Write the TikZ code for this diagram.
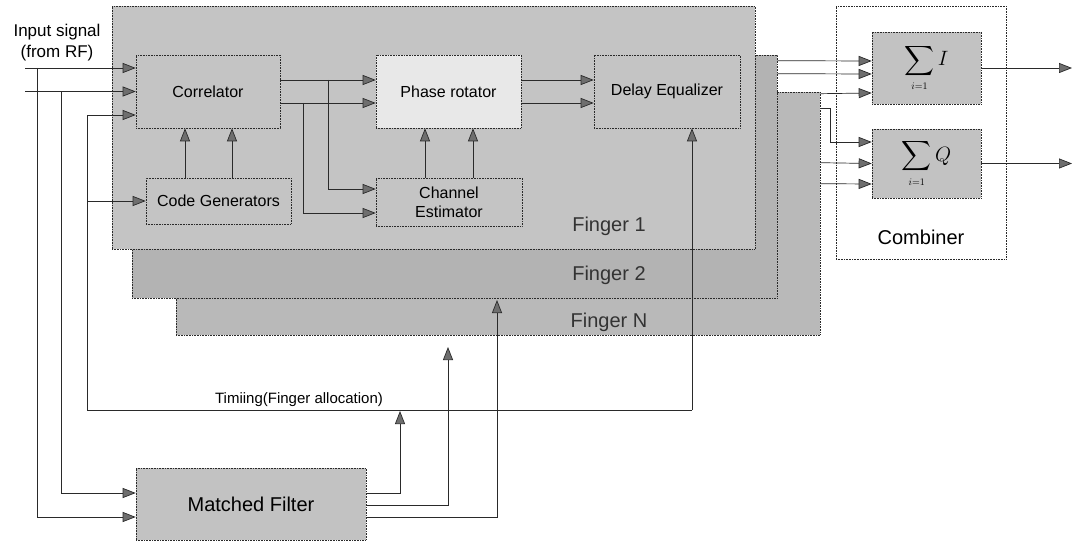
\documentclass[tikz,border=0pt]{standalone}
\usepackage{amsmath}
\usepackage{fontspec}
\setmainfont{Liberation Sans}
\usepackage{xcolor}
\usetikzlibrary{arrows.meta}
\definecolor{fingerA}{HTML}{C4C4C4}
\definecolor{fingerB}{HTML}{B3B3B3}
\definecolor{fingerN}{HTML}{B9B9B9}
\definecolor{rotFill}{HTML}{E8E8E8}
\definecolor{boxFill}{HTML}{C2C2C2}
\definecolor{lineClr}{HTML}{2A2A2A}
\definecolor{tipFill}{HTML}{6E6E6E}

\begin{document}
\begin{tikzpicture}[
    x=1pt, y=-1pt,
    plate/.style={
      rectangle, draw=lineClr, densely dotted, line width=0.6pt, inner sep=0pt
    },
    blk/.style={
      rectangle, draw=lineClr, densely dotted, line width=0.6pt,
      inner sep=1pt, align=center, font=\fontsize{16}{19}\selectfont
    },
    lbl/.style={inner sep=1pt, align=center, font=\fontsize{16}{19}\selectfont},
    biglbl/.style={inner sep=1pt, font=\fontsize{20}{24}\selectfont, text=black!80},
    sumblk/.style={blk, fill=boxFill, font=\fontsize{20}{22}\selectfont, minimum width=109pt},
    wire/.style={draw=lineClr, line width=0.7pt},
    arr/.style={-{Triangle[length=13pt, width=10pt, fill=tipFill]}, wire},
  ]
  \useasboundingbox (0,0) rectangle (1076,545);

  %% ── Finger plates (back to front) ──
  \node[plate, fill=fingerN, minimum width=644pt, minimum height=243pt] (fN) at (498,213.5) {};
  \node[plate, fill=fingerB, minimum width=645pt, minimum height=243pt] (f2) at (454.5,176.5) {};
  \node[plate, fill=fingerA, minimum width=643pt, minimum height=243pt] (f1) at (433.5,127.5) {};
  \node[biglbl] (f1Lbl) at (609,226) {Finger 1};
  \node[biglbl] (f2Lbl) at (609,275) {Finger 2};
  \node[biglbl] (fNLbl) at (609,322) {Finger N};

  %% ── Blocks of finger 1 ──
  \node[blk, minimum width=144pt, minimum height=73pt]               (corr)    at (208,91.5)  {Correlator};
  \node[blk, minimum width=145pt, minimum height=46pt]               (codegen) at (218.5,201) {Code Generators};
  \node[blk, fill=rotFill, minimum width=145pt, minimum height=73pt] (phrot)   at (448.5,91.5) {Phase rotator};
  \node[blk, minimum width=146pt, minimum height=48pt]               (chest)   at (449,202)   {Channel\\Estimator};
  \node[blk, minimum width=146pt, minimum height=73pt]               (deleq)   at (667,91.5)  {Delay Equalizer};

  %% ── Combiner ──
  \node[plate, fill=white, minimum width=170pt, minimum height=253pt] (comb) at (921,132.5) {};
  \node[biglbl, text=black] (combLbl) at (921,237) {Combiner};
  \node[sumblk, minimum height=72pt] (sumI) at (926.5,68)    {$\displaystyle\sum_{\scriptscriptstyle i=1} I$};
  \node[sumblk, minimum height=69pt] (sumQ) at (926.5,163.5) {$\displaystyle\sum_{\scriptscriptstyle i=1} Q$};

  %% ── Matched filter ──
  \node[blk, fill=boxFill, font=\fontsize{20}{24}\selectfont, minimum width=230pt, minimum height=72pt] (mf) at (251,504) {Matched Filter};

  %% ── Labels ──
  \node[lbl, font=\fontsize{17}{21}\selectfont] (input) at (57,42.5) {Input signal\\(from RF)};
  \node[lbl, font=\fontsize{15}{18}\selectfont] (timing) at (299,400) {Timiing(Finger allocation)};

  %% ── Free ends and branch points ──
  \coordinate (in1) at (25,68);
  \coordinate (in2) at (25,91.5);
  \coordinate (br1) at (37,68);
  \coordinate (br2) at (61,91.5);
  \coordinate (tl)  at (87,410);
  \coordinate (tcg) at (87,201);
  \coordinate (tr)  at (692,410);
  \coordinate (c1)  at (328,80);
  \coordinate (c2)  at (303,103);
  \coordinate (mfo1) at (400,411);
  \coordinate (mfo2) at (448,347);
  \coordinate (mfo3) at (497,300);
  \coordinate (outI) at (1072,68);
  \coordinate (outQ) at (1072,163.5);

  %% ── Input signal ──
  \draw[arr] (in1) -- ([yshift=23.5pt]corr.west);
  \draw[arr] (in2) -- (corr.west);
  \draw[arr] (br1) |- ([yshift=-13pt]mf.west);
  \draw[arr] (br2) |- ([yshift=11pt]mf.west);

  %% ── Timing (finger allocation) ──
  \draw[wire] (tl) -- (tr);
  \draw[arr] (tl) |- ([yshift=-23.5pt]corr.west);
  \draw[arr] (tcg) -- (codegen.west);
  \draw[arr] (tr) -- ([xshift=25pt]deleq.south);
  \draw[arr] ([yshift=11pt]mf.east) -| (mfo1);
  \draw[arr] ([yshift=-1pt]mf.east) -| (mfo2);
  \draw[arr] ([yshift=-13pt]mf.east) -| (mfo3);

  %% ── Inside finger 1 ──
  \draw[arr] ([xshift=-33.5pt]codegen.north) -- ([xshift=-23pt]corr.south);
  \draw[arr] ([xshift=13.5pt]codegen.north) -- ([xshift=24pt]corr.south);
  \draw[arr] ([yshift=11.5pt]corr.east) -- ([yshift=11.5pt]phrot.west);
  \draw[arr] ([yshift=-11.5pt]corr.east) -- ([yshift=-11.5pt]phrot.west);
  \draw[arr] (c1) |- ([yshift=13pt]chest.west);
  \draw[arr] (c2) |- ([yshift=-11pt]chest.west);
  \draw[arr] ([xshift=-24pt]chest.north) -- ([xshift=-23.5pt]phrot.south);
  \draw[arr] ([xshift=24pt]chest.north) -- ([xshift=24.5pt]phrot.south);
  \draw[arr] ([yshift=11.5pt]phrot.east) -- ([yshift=11.5pt]deleq.west);
  \draw[arr] ([yshift=-11.5pt]phrot.east) -- ([yshift=-11.5pt]deleq.west);

  %% ── Fingers to combiner ──
  \draw[arr] ([yshift=-6pt]f2.north east)  -- ([yshift=7pt]sumI.west);
  \draw[arr] ([yshift=-19pt]f2.north east) -- ([yshift=-6pt]sumI.west);
  \draw[arr] ([yshift=-2pt]fN.north east)  -- ([yshift=-25pt]sumI.west);
  \draw[arr] ([yshift=-17pt]fN.north east) -- ++(10,0) |- ([yshift=21.5pt]sumQ.west);
  \draw[arr] ([yshift=-71pt]fN.north east) -- (sumQ.west);
  \draw[arr] ([yshift=-92pt]fN.north east) -- ([yshift=-20.5pt]sumQ.west);

  %% ── Outputs ──
  \draw[arr] (sumI.east) -- (outI);
  \draw[arr] (sumQ.east) -- (outQ);

\end{tikzpicture}
\end{document}
